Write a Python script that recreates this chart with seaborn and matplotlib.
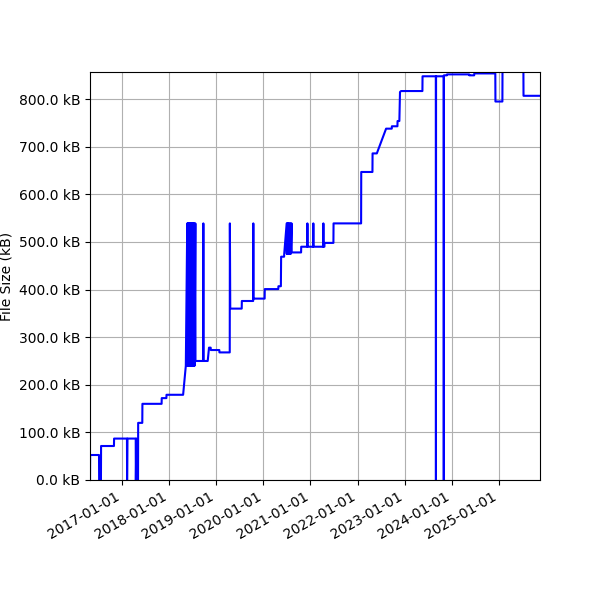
import matplotlib
matplotlib.use("Agg")
import matplotlib.pyplot as plt
import matplotlib.dates as mdates
from matplotlib.ticker import FuncFormatter
import pandas as pd
import seaborn as sns

# file size history (kB)
dates = [
    "2016-04-25", "2016-04-26", "2016-07-04", "2016-07-05", "2016-07-19", "2016-07-20",
    "2016-10-28", "2016-10-29", "2017-02-06", "2017-02-07", "2017-02-10", "2017-04-15",
    "2017-04-16", "2017-04-20", "2017-04-21", "2017-05-03", "2017-05-04", "2017-06-05",
    "2017-06-06", "2017-11-02", "2017-11-03", "2017-12-09", "2017-12-10", "2018-04-18",
    "2018-05-09",
    "2018-05-20", "2018-05-21", "2018-05-25", "2018-05-26", "2018-05-30", "2018-05-31",
    "2018-06-04", "2018-06-05", "2018-06-09", "2018-06-10", "2018-06-14", "2018-06-15",
    "2018-06-19", "2018-06-20", "2018-06-24", "2018-06-25", "2018-06-29", "2018-06-30",
    "2018-07-04", "2018-07-05", "2018-07-09", "2018-07-10", "2018-07-15", "2018-07-16",
    "2018-07-22", "2018-07-23",
    "2018-07-28", "2018-09-21", "2018-09-22", "2018-09-23", "2018-10-26", "2018-11-05",
    "2018-11-18", "2018-11-19", "2019-01-24", "2019-01-25", "2019-04-15", "2019-04-16",
    "2019-04-19", "2019-07-17", "2019-07-18", "2019-10-14", "2019-10-15", "2019-10-16",
    "2020-01-11", "2020-01-12", "2020-04-26", "2020-04-27", "2020-05-16", "2020-05-18",
    "2020-06-10", "2020-06-11",
    "2020-06-30", "2020-07-01", "2020-07-05", "2020-07-06", "2020-07-11", "2020-07-12",
    "2020-07-17", "2020-07-18", "2020-07-24", "2020-07-25", "2020-07-31", "2020-08-01",
    "2020-08-07", "2020-08-08",
    "2020-10-20", "2020-10-21", "2020-12-07", "2020-12-08", "2020-12-09", "2021-01-22",
    "2021-01-23", "2021-01-24", "2021-04-10", "2021-04-11", "2021-04-12", "2021-04-19",
    "2021-04-20", "2021-06-28", "2021-06-29", "2022-01-29", "2022-01-30", "2022-04-27",
    "2022-04-28", "2022-05-31", "2022-08-11", "2022-09-24", "2022-09-25", "2022-11-07",
    "2022-11-08", "2022-11-22", "2022-11-27", "2022-12-05", "2023-05-20", "2023-05-21",
    "2023-09-01", "2023-09-02", "2023-09-03", "2023-11-01", "2023-11-02", "2023-11-03",
    "2023-11-26", "2023-11-27", "2024-05-17", "2024-05-18", "2024-06-25", "2024-06-26",
    "2024-12-06", "2024-12-07", "2025-01-30", "2025-01-31", "2025-07-12", "2025-07-13",
    "2025-11-18",
]
sizes_kb = [
    0, 52.5, 52.5, 0, 0, 71.4,
    71.4, 87, 87, 0, 87, 87,
    0, 87, 0, 0, 120, 120,
    160, 160, 172, 172, 179, 179,
    240,
    539, 240, 539, 240, 539, 240,
    539, 240, 539, 240, 539, 240,
    539, 240, 539, 240, 539, 240,
    539, 240, 539, 240, 539, 240,
    539, 250,
    250, 250, 539, 250, 250, 278,
    278, 273, 273, 268, 268, 539,
    360, 360, 376, 376, 539, 381,
    381, 401, 401, 407, 407, 469,
    469, 475,
    539, 475, 539, 475, 539, 475,
    539, 475, 539, 475, 539, 475,
    539, 478,
    478, 490, 490, 539, 490, 490,
    539, 490, 490, 539, 490, 490,
    498, 498, 539, 539, 647, 647,
    686, 686, 738, 738, 743, 743,
    754, 754, 815, 817, 817, 848,
    848, 0, 848, 848, 0, 850,
    850, 852, 852, 850, 850, 854,
    854, 795, 795, 870, 870, 807,
    807,
]

df = pd.DataFrame({"date": pd.to_datetime(dates), "size": sizes_kb})

fig, ax = plt.subplots(figsize=(6, 6), dpi=100)
sns.lineplot(data=df, x="date", y="size", color="blue", linewidth=1.5,
             estimator=None, sort=False, ax=ax)

ax.set_xlim(df["date"].iloc[0], df["date"].iloc[-1])
ax.set_ylim(0, 857)
ax.xaxis.set_major_locator(mdates.YearLocator())
ax.xaxis.set_major_formatter(mdates.DateFormatter("%Y-%m-%d"))
ax.yaxis.set_major_formatter(FuncFormatter(lambda v, p: f"{v:.1f} kB"))
ax.set_xlabel("")
ax.set_ylabel("File Size (kB)")
ax.grid(True)

fig.autofmt_xdate()
fig.subplots_adjust(left=0.15)
fig.savefig("out.png", dpi=100)
